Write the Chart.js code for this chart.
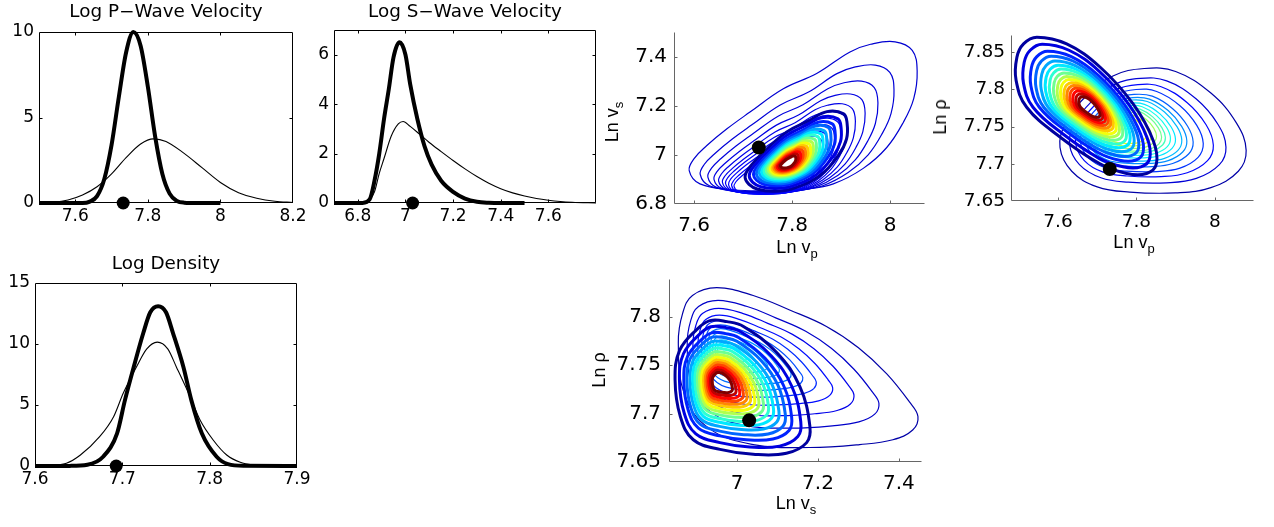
<!DOCTYPE html>
<html>
<head>
<meta charset="utf-8">
<script src="https://cdn.jsdelivr.net/npm/chart.js@4.4.1/dist/chart.umd.min.js"></script>
<style>
  html, body { margin: 0; padding: 0; background: #fff; }
  #page { position: relative; width: 1274px; height: 527px; overflow: hidden; color: #000; }
  canvas { position: absolute; }
  .title { position: absolute; z-index: 2; font-family: "DejaVu Sans", sans-serif; font-size: 17px; line-height: 17px; white-space: nowrap; transform: translateX(-50%) scaleX(1.08); }
  .xlab { position: absolute; z-index: 2; font-family: "Liberation Sans", Arial, sans-serif; font-size: 18px; line-height: 18px; white-space: nowrap; transform: translateX(-50%); }
  .ylab { position: absolute; z-index: 2; font-family: "Liberation Sans", Arial, sans-serif; font-size: 18px; line-height: 18px; white-space: nowrap; transform: translate(-50%, -50%) rotate(-90deg); }
  .sub { font-size: 13px; position: relative; top: 5px; }
</style>
</head>
<body>
<div id="page">
  <canvas id="pwave"></canvas>
  <canvas id="swave"></canvas>
  <canvas id="dens"></canvas>
  <canvas id="vpvs"></canvas>
  <canvas id="vprho"></canvas>
  <canvas id="vsrho"></canvas>

  <div class="title" style="left:166px; top:3px;">Log P&minus;Wave Velocity</div>
  <div class="title" style="left:465px; top:3px;">Log S&minus;Wave Velocity</div>
  <div class="title" style="left:166px; top:255px;">Log Density</div>

  <div class="xlab" style="left:797px; top:238px;">Ln v<span class="sub">p</span></div>
  <div class="ylab" style="left:613px; top:122px;">Ln v<span class="sub">s</span></div>
  <div class="xlab" style="left:1134px; top:233px;">Ln v<span class="sub">p</span></div>
  <div class="ylab" style="left:940px; top:117px;">Ln &rho;</div>
  <div class="xlab" style="left:796px; top:494px;">Ln v<span class="sub">s</span></div>
  <div class="ylab" style="left:599px; top:370px;">Ln &rho;</div>
</div>

<script>
// true model (black dots)
const trueLnVp = 7.732;
const trueLnVs = 7.03;
const trueLnRho = 7.693;

// 1D marginals: thick = posterior, thin = prior
const pWavePostX = [7.50, 7.62, 7.64, 7.66, 7.68, 7.70, 7.72, 7.74, 7.76, 7.78, 7.80, 7.82, 7.84, 7.86, 7.88, 7.90, 7.94, 8.00];
const pWavePost = [0, 0, 0.08, 0.4, 1.4, 3.4, 6.2, 8.8, 10.0, 9.2, 6.8, 3.9, 1.7, 0.55, 0.12, 0.02, 0, 0];
const pWavePriorX = [7.50, 7.54, 7.58, 7.62, 7.66, 7.70, 7.74, 7.78, 7.815, 7.85, 7.90, 7.95, 8.00, 8.05, 8.10, 8.15, 8.20];
const pWavePrior = [0, 0.04, 0.18, 0.47, 0.95, 1.7, 2.65, 3.45, 3.75, 3.6, 2.9, 2.05, 1.2, 0.6, 0.28, 0.1, 0.03];

const sWavePostX = [6.70, 6.82, 6.85, 6.87, 6.89, 6.91, 6.93, 6.95, 6.975, 7.00, 7.02, 7.05, 7.08, 7.11, 7.15, 7.20, 7.25, 7.30, 7.35, 7.40, 7.50];
const sWavePost = [0, 0, 0.15, 0.9, 2.0, 3.4, 4.6, 5.9, 6.5, 6.0, 4.8, 3.4, 2.3, 1.55, 0.9, 0.45, 0.18, 0.05, 0.01, 0, 0];
const sWavePriorX = [6.70, 6.82, 6.85, 6.87, 6.89, 6.91, 6.94, 6.97, 6.99, 7.02, 7.06, 7.10, 7.15, 7.20, 7.25, 7.30, 7.35, 7.40, 7.45, 7.50, 7.55, 7.60, 7.65, 7.70, 7.80];
const sWavePrior = [0, 0, 0.15, 0.45, 1.2, 1.8, 2.7, 3.2, 3.3, 3.1, 2.78, 2.45, 2.08, 1.72, 1.38, 1.07, 0.8, 0.58, 0.41, 0.28, 0.18, 0.11, 0.06, 0.03, 0];

const densPostX = [7.60, 7.64, 7.66, 7.678, 7.694, 7.703, 7.713, 7.724, 7.732, 7.741, 7.75, 7.758, 7.770, 7.779, 7.791, 7.808, 7.821, 7.84, 7.90];
const densPost = [0, 0.01, 0.1, 0.76, 2.68, 5.4, 8.1, 10.9, 12.6, 13.1, 12.6, 10.9, 8.1, 5.4, 2.68, 0.76, 0.16, 0.02, 0];
const densPriorX = [7.60, 7.62, 7.636, 7.652, 7.674, 7.690, 7.701, 7.716, 7.728, 7.740, 7.752, 7.762, 7.7775, 7.789, 7.804, 7.8195, 7.835, 7.85, 7.87, 7.90];
const densPrior = [0, 0.06, 0.22, 0.9, 2.4, 4.04, 5.96, 8.1, 9.6, 10.15, 9.6, 8.1, 5.7, 3.77, 2.13, 0.9, 0.3, 0.08, 0.01, 0];

// 2D contours: outermost contour, plus the nesting of the inner levels
const vpVsPriorOutline = [[7.590,6.936],[7.612,6.882],[7.680,6.858],[7.748,6.854],[7.830,6.862],[7.884,6.882],[7.945,6.945],[7.993,7.030],[8.027,7.133],[8.048,7.229],[8.055,7.340],[8.045,7.425],[8.010,7.460],[7.960,7.450],[7.918,7.419],[7.850,7.331],[7.782,7.269],[7.714,7.174],[7.667,7.106],[7.626,7.038],[7.600,6.985]];
const vpVsPriorAnchor = [7.74, 6.83];
const vpVsPriorLevels = [1, 0.85, 0.746, 0.663, 0.6, 0.548, 0.506, 0.465, 0.423, 0.39];
const vpVsPostOutline = [[7.704,6.909],[7.712,6.880],[7.730,6.860],[7.762,6.852],[7.800,6.862],[7.857,6.916],[7.895,7.000],[7.911,7.065],[7.912,7.130],[7.905,7.167],[7.871,7.176],[7.835,7.140],[7.789,7.093],[7.742,7.011],[7.711,6.943]];
const vpVsPostCenter = [7.789, 6.963];

const vpRhoPriorOutline = [[7.605,7.722],[7.635,7.690],[7.700,7.669],[7.783,7.662],[7.900,7.661],[7.990,7.668],[8.060,7.690],[8.080,7.718],[8.055,7.755],[7.990,7.795],[7.900,7.824],[7.820,7.828],[7.740,7.818],[7.670,7.790],[7.620,7.755]];
const vpRhoPriorAnchor = [7.758, 7.745];
const vpRhoPriorLevels = [1, 0.84, 0.74, 0.66, 0.58, 0.53, 0.49, 0.44, 0.40, 0.36, 0.33, 0.29, 0.25, 0.21];
const vpRhoPostOutline = [[7.493,7.812],[7.495,7.843],[7.512,7.861],[7.546,7.870],[7.622,7.861],[7.707,7.830],[7.792,7.780],[7.843,7.731],[7.851,7.700],[7.826,7.687],[7.775,7.687],[7.707,7.700],[7.605,7.736],[7.520,7.776]];
const vpRhoPostCenter = [7.6815, 7.776];

const vsRhoPriorOutline = [[6.855,7.773],[6.866,7.804],[6.890,7.822],[6.950,7.830],[7.040,7.822],[7.130,7.807],[7.221,7.790],[7.300,7.768],[7.370,7.741],[7.426,7.712],[7.447,7.697],[7.434,7.683],[7.385,7.673],[7.303,7.668],[7.180,7.665],[7.040,7.668],[6.930,7.685],[6.870,7.720]];
const vsRhoPriorAnchor = [6.965, 7.765];
const vsRhoPriorLevels = [1, 0.8, 0.672, 0.563, 0.479, 0.41, 0.35, 0.29, 0.23, 0.17, 0.12];
const vsRhoPostOutline = [[6.847,7.735],[6.858,7.765],[6.901,7.787],[6.933,7.796],[6.975,7.795],[7.016,7.790],[7.098,7.763],[7.155,7.728],[7.180,7.687],[7.172,7.670],[7.122,7.659],[7.040,7.658],[6.958,7.663],[6.892,7.673],[6.860,7.697]];
const vsRhoPostCenter = [6.955, 7.733];

const postLevels = [1, 0.9, 0.8, 0.73, 0.66, 0.6, 0.545, 0.49, 0.44, 0.395, 0.35, 0.31, 0.27, 0.23, 0.19, 0.15];

// ---- drawing helpers ----
function jet(t) {
  const c = v => Math.round(255 * Math.min(1, Math.max(0, v)));
  return `rgb(${c(1.5 - Math.abs(4 * t - 3))},${c(1.5 - Math.abs(4 * t - 2))},${c(1.5 - Math.abs(4 * t - 1))})`;
}

function curve(xs, ys, w) {
  return { data: xs.map((x, i) => ({ x, y: ys[i] })), showLine: true, borderColor: '#000', borderWidth: w,
    pointRadius: 0, cubicInterpolationMode: 'monotone', clip: false };
}

// each level is the traced outline shrunk toward the anchor; drawn as a closed spline
function rings(outline, anchor, levels, tFrom, tTo, w) {
  return levels.map((s, i) => {
    const pts = outline.map(([x, y]) => ({ x: anchor[0] + s * (x - anchor[0]), y: anchor[1] + s * (y - anchor[1]) }));
    const t = tFrom + (tTo - tFrom) * i / Math.max(1, levels.length - 1);
    return { data: pts, loop: true, showLine: true, borderColor: jet(t), borderWidth: w, pointRadius: 0, tension: 0.4 };
  });
}

function dot(x, y, r) {
  return { data: [{ x, y }], showLine: false, pointRadius: r, pointBackgroundColor: '#000', pointBorderWidth: 0, clip: false };
}

// close the contour lines the way the radar chart closes its line
const closeLoops = {
  id: 'closeLoops',
  afterDatasetUpdate(chart, args) {
    const ds = chart.data.datasets[args.index];
    const line = args.meta.dataset;
    if (ds.loop && line) { line._loop = true; line._fullLoop = true; }
  }
};

const frame = {
  id: 'frame',
  beforeDatasetsDraw(chart, args, o) {
    const { ctx, chartArea: a, scales: { x, y } } = chart;
    const L = Math.round(a.left) + 0.5, R = Math.round(a.right) - 0.5;
    const T = Math.round(a.top) + 0.5, B = Math.round(a.bottom) - 0.5;
    ctx.save();
    ctx.strokeStyle = o.color;
    ctx.lineWidth = 1;
    ctx.beginPath();
    if (o.box) {
      ctx.rect(L, T, R - L, B - T);
    } else {
      ctx.moveTo(L, T); ctx.lineTo(L, B); ctx.lineTo(R, B);
    }
    const tl = o.tick;
    x.ticks.forEach(t => {
      const px = Math.round(x.getPixelForValue(t.value)) + 0.5;
      if (px <= L + 1 || px >= R - 1) return;
      ctx.moveTo(px, B); ctx.lineTo(px, B - tl);
      if (o.box) { ctx.moveTo(px, T); ctx.lineTo(px, T + tl); }
    });
    y.ticks.forEach(t => {
      const py = Math.round(y.getPixelForValue(t.value)) + 0.5;
      if (py <= T + 1 || py >= B - 1) return;
      ctx.moveTo(L, py); ctx.lineTo(L + tl, py);
      if (o.box) { ctx.moveTo(R, py); ctx.lineTo(R - tl, py); }
    });
    ctx.stroke();
    ctx.restore();
  }
};

const YW = 80, XH = 50, PT = 12, PR = 30;

function axis(min, max, ticks, size, pad, isX) {
  return {
    type: 'linear', min, max,
    grid: { display: false, drawTicks: false },
    border: { display: false },
    ticks: { autoSkip: false, maxRotation: 0, minRotation: 0, padding: pad, color: '#000',
      font: { family: 'DejaVu Sans', size }, callback: v => String(v) },
    afterBuildTicks: s => { s.ticks = ticks.map(v => ({ value: v })); },
    afterFit: s => {
      if (isX) s.height = XH; else s.width = YW;
      s.paddingLeft = 0; s.paddingRight = 0; s.paddingTop = 0; s.paddingBottom = 0;
    }
  };
}

function panel(id, box, cfg) {
  const [L, T, R, B] = box;
  const cv = document.getElementById(id);
  const w = R - L + YW + PR, h = B - T + PT + XH;
  cv.width = w; cv.height = h;
  cv.style.left = (L - YW) + 'px'; cv.style.top = (T - PT) + 'px';
  cv.style.width = w + 'px'; cv.style.height = h + 'px';
  new Chart(cv, {
    type: 'scatter',
    // Chart.js paints the first dataset last, so reverse to keep the listed stacking
    data: { datasets: cfg.datasets.slice().reverse() },
    options: {
      responsive: false, animation: false, events: [],
      layout: { padding: { left: 0, top: PT, right: PR, bottom: 0 } },
      plugins: { legend: { display: false }, tooltip: { enabled: false },
        frame: { box: cfg.box, color: cfg.box ? '#000' : '#666', tick: 3 } },
      scales: {
        x: axis(cfg.x[0], cfg.x[1], cfg.xTicks, cfg.font, cfg.xPad, true),
        y: axis(cfg.y[0], cfg.y[1], cfg.yTicks, cfg.font, cfg.yPad, false)
      }
    },
    plugins: [frame, closeLoops]
  });
}

panel('pwave', [39, 32, 293, 203], {
  box: true, font: 17, xPad: 3, yPad: 5,
  x: [7.5, 8.2], xTicks: [7.6, 7.8, 8, 8.2], y: [0, 10], yTicks: [0, 5, 10],
  datasets: [curve(pWavePriorX, pWavePrior, 1.1), curve(pWavePostX, pWavePost, 4), dot(trueLnVp, 0, 6.5)]
});

panel('swave', [334, 30, 596, 203], {
  box: true, font: 17, xPad: 3, yPad: 5,
  x: [6.7, 7.8], xTicks: [6.8, 7, 7.2, 7.4, 7.6], y: [0, 7], yTicks: [0, 2, 4, 6],
  datasets: [curve(sWavePriorX, sWavePrior, 1.1), curve(sWavePostX, sWavePost, 4), dot(trueLnVs, 0, 6.5)]
});

panel('dens', [35, 283, 297, 466], {
  box: true, font: 17, xPad: 3, yPad: 5,
  x: [7.6, 7.9], xTicks: [7.6, 7.7, 7.8, 7.9], y: [0, 15], yTicks: [0, 5, 10, 15],
  datasets: [curve(densPriorX, densPrior, 1.1), curve(densPostX, densPost, 4), dot(trueLnRho, 0, 6.5)]
});

panel('vpvs', [674, 32, 925, 204], {
  box: false, font: 20, xPad: 10, yPad: 7,
  x: [7.559, 8.071], xTicks: [7.6, 7.8, 8], y: [6.8, 7.5], yTicks: [6.8, 7, 7.2, 7.4],
  datasets: [
    ...rings(vpVsPriorOutline, vpVsPriorAnchor, vpVsPriorLevels, 0.08, 0.13, 1.2),
    ...rings(vpVsPostOutline, vpVsPostCenter, postLevels, 0.03, 1, 3),
    dot(trueLnVp, trueLnVs, 7)
  ]
});

panel('vprho', [1011, 35, 1254, 201], {
  box: false, font: 18.5, xPad: 10, yPad: 6,
  x: [7.48, 8.1], xTicks: [7.6, 7.8, 8], y: [7.65, 7.873], yTicks: [7.65, 7.7, 7.75, 7.8, 7.85],
  datasets: [
    ...rings(vpRhoPriorOutline, vpRhoPriorAnchor, vpRhoPriorLevels, 0.04, 0.62, 1.2),
    ...rings(vpRhoPostOutline, vpRhoPostCenter, postLevels, 0.03, 1, 3),
    dot(trueLnVp, trueLnRho, 7)
  ]
});

panel('vsrho', [669, 279, 922, 462], {
  box: false, font: 20, xPad: 10, yPad: 8,
  x: [6.832, 7.457], xTicks: [7, 7.2, 7.4], y: [7.65, 7.839], yTicks: [7.65, 7.7, 7.75, 7.8],
  datasets: [
    ...rings(vsRhoPriorOutline, vsRhoPriorAnchor, vsRhoPriorLevels, 0.04, 0.36, 1.2),
    ...rings(vsRhoPostOutline, vsRhoPostCenter, postLevels, 0.03, 1, 3),
    dot(trueLnVs, trueLnRho, 7)
  ]
});
</script>
</body>
</html>
